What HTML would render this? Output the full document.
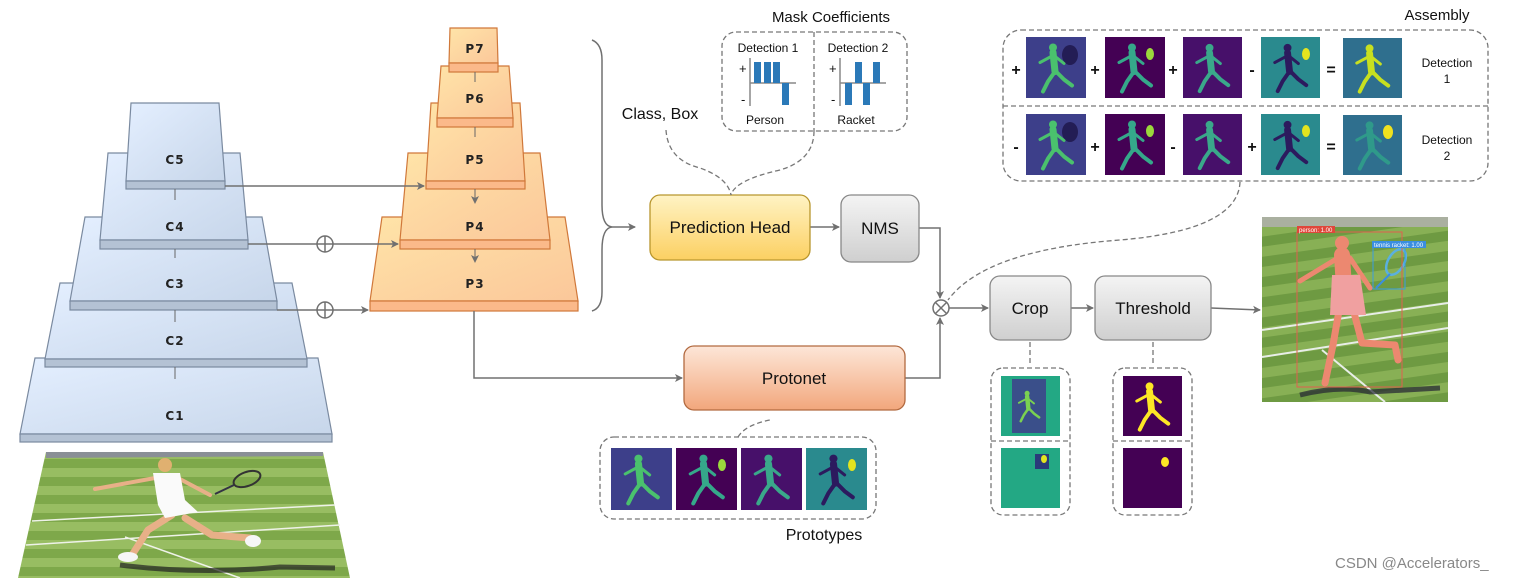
<!DOCTYPE html>
<html><head><meta charset="utf-8"><style>
html,body{margin:0;padding:0;background:#fff;}
svg{display:block;font-family:"Liberation Sans",sans-serif;}
.lab{font-family:"DejaVu Sans","Liberation Sans",sans-serif;font-weight:bold;font-size:12px;fill:#222;letter-spacing:1px}
.t{font-family:"Liberation Sans",sans-serif;fill:#111}
</style></head><body>
<svg width="1532" height="582" viewBox="0 0 1532 582" xmlns="http://www.w3.org/2000/svg">
<defs>
<linearGradient id="bl" x1="0" y1="0" x2="1" y2="1"><stop offset="0" stop-color="#e4efff"/><stop offset="1" stop-color="#c7d6ea"/></linearGradient>
<linearGradient id="or" x1="0" y1="0" x2="1" y2="1"><stop offset="0" stop-color="#ffe4a8"/><stop offset="1" stop-color="#fbc79a"/></linearGradient>
<linearGradient id="ye" x1="0" y1="0" x2="0" y2="1"><stop offset="0" stop-color="#fff3c4"/><stop offset="1" stop-color="#fcd062"/></linearGradient>
<linearGradient id="gr" x1="0" y1="0" x2="0" y2="1"><stop offset="0" stop-color="#f4f4f4"/><stop offset="1" stop-color="#cfcfcf"/></linearGradient>
<linearGradient id="pr" x1="0" y1="0" x2="0" y2="1"><stop offset="0" stop-color="#fde6d8"/><stop offset="1" stop-color="#f2a77c"/></linearGradient>
<pattern id="stripes" width="20" height="18" patternUnits="userSpaceOnUse"><rect width="20" height="18" fill="#7ea84a"/><rect width="20" height="9" fill="#98bd62"/></pattern>
<pattern id="stripes2" width="20" height="20" patternUnits="userSpaceOnUse" patternTransform="rotate(-8)"><rect width="20" height="20" fill="#6e9a42"/><rect width="20" height="10" fill="#88b055"/></pattern>
<marker id="ar" markerWidth="8" markerHeight="8" refX="7" refY="4" orient="auto" markerUnits="userSpaceOnUse"><path d="M0,0 L8,4 L0,8 L2,4 z" fill="#707070"/></marker>
<symbol id="fig" viewBox="0 0 60 60" overflow="visible">
<g fill="none" stroke-linecap="round" stroke-linejoin="round">
<circle cx="27" cy="10" r="4" fill="currentColor" stroke="none"/>
<path d="M27,15 L29,34" stroke-width="7"/>
<path d="M27,18 L14,25 M28,18 L38,26" stroke-width="3"/>
<path d="M29,34 L22,44 L17,54 M30,34 L38,42 L46,48" stroke-width="4"/>
</g>
</symbol>
</defs>

<!-- C pyramid -->
<g stroke="#7a8aa0" stroke-width="1.2">
<polygon points="35,358 318,358 332,434 20,434" fill="url(#bl)"/><rect x="20" y="434" width="312" height="8" fill="#b4c2d4"/>
<polygon points="60,283 292,283 307,359 45,359" fill="url(#bl)"/><rect x="45" y="359" width="262" height="8" fill="#b4c2d4"/>
<polygon points="85,217 262,217 277,301 70,301" fill="url(#bl)"/><rect x="70" y="301" width="207" height="9" fill="#b4c2d4"/>
<polygon points="108,153 240,153 248,240 100,240" fill="url(#bl)"/><rect x="100" y="240" width="148" height="9" fill="#b4c2d4"/>
<polygon points="131,103 219,103 225,181 126,181" fill="url(#bl)"/><rect x="126" y="181" width="99" height="8" fill="#b4c2d4"/>
</g>
<g stroke="#666" stroke-width="1"><line x1="175" y1="189" x2="175" y2="200"/><line x1="175" y1="249" x2="175" y2="258"/><line x1="175" y1="310" x2="175" y2="322"/><line x1="175" y1="367" x2="175" y2="379"/></g>
<g class="lab" text-anchor="middle"><text x="175" y="164">C5</text><text x="175" y="231">C4</text><text x="175" y="288">C3</text><text x="175" y="345">C2</text><text x="175" y="420">C1</text></g>

<!-- P pyramid -->
<g stroke="#d0783a" stroke-width="1.2">
<polygon points="382,217 565,217 578,301 370,301" fill="url(#or)"/><rect x="370" y="301" width="208" height="10" fill="#fbb98a"/>
<polygon points="408,153 540,153 550,240 400,240" fill="url(#or)"/><rect x="400" y="240" width="150" height="9" fill="#fbb98a"/>
<polygon points="431,103 520,103 525,181 426,181" fill="url(#or)"/><rect x="426" y="181" width="99" height="8" fill="#fbb98a"/>
<polygon points="441,66 509,66 513,118 437,118" fill="url(#or)"/><rect x="437" y="118" width="76" height="9" fill="#fbb98a"/>
<polygon points="450,28 497,28 498,63 449,63" fill="url(#or)"/><rect x="449" y="63" width="49" height="9" fill="#fbb98a"/>
</g>
<g stroke="#666" stroke-width="1" fill="none"><line x1="475" y1="72" x2="475" y2="82"/><line x1="475" y1="127" x2="475" y2="137"/><line x1="475" y1="189" x2="475" y2="203" marker-end="url(#ar)"/><line x1="475" y1="249" x2="475" y2="262" marker-end="url(#ar)"/></g>
<g class="lab" text-anchor="middle"><text x="475" y="53">P7</text><text x="475" y="103">P6</text><text x="475" y="164">P5</text><text x="475" y="231">P4</text><text x="475" y="288">P3</text></g>

<!-- arrows -->
<g stroke="#707070" stroke-width="1.5" fill="none">
<line x1="225" y1="186" x2="424" y2="186" marker-end="url(#ar)"/>
<line x1="248" y1="244" x2="398" y2="244" marker-end="url(#ar)"/>
<line x1="277" y1="310" x2="368" y2="310" marker-end="url(#ar)"/>
<circle cx="325" cy="244" r="8" fill="#fff"/><line x1="317" y1="244" x2="333" y2="244"/><line x1="325" y1="236" x2="325" y2="252"/>
<circle cx="325" cy="310" r="8" fill="#fff"/><line x1="317" y1="310" x2="333" y2="310"/><line x1="325" y1="302" x2="325" y2="318"/>
<path d="M592,40 Q602,44 602,60 L602,205 Q602,226 612,227 Q602,228 602,250 L602,292 Q602,308 592,311"/>
<line x1="612" y1="227" x2="635" y2="227" marker-end="url(#ar)"/>
<polyline points="474,311 474,378 682,378" marker-end="url(#ar)"/>
<line x1="810" y1="227" x2="839" y2="227" marker-end="url(#ar)"/>
<polyline points="919,228 940,228 940,298" marker-end="url(#ar)"/>
<polyline points="905,378 940,378 940,318" marker-end="url(#ar)"/>
<circle cx="941" cy="308" r="8" fill="#fff"/><line x1="935" y1="302" x2="947" y2="314"/><line x1="947" y1="302" x2="935" y2="314"/>
<line x1="949" y1="308" x2="988" y2="308" marker-end="url(#ar)"/>
<line x1="1071" y1="308" x2="1093" y2="308" marker-end="url(#ar)"/>
<line x1="1211" y1="308" x2="1260" y2="310" marker-end="url(#ar)"/>
</g>

<!-- boxes -->
<rect x="650" y="195" width="160" height="65" rx="10" fill="url(#ye)" stroke="#b8962e" stroke-width="1.3"/>
<text x="730" y="233" class="t" font-size="17" text-anchor="middle">Prediction Head</text>
<rect x="841" y="195" width="78" height="67" rx="10" fill="url(#gr)" stroke="#888" stroke-width="1.3"/>
<text x="880" y="234" class="t" font-size="17" text-anchor="middle">NMS</text>
<rect x="684" y="346" width="221" height="64" rx="10" fill="url(#pr)" stroke="#b26a40" stroke-width="1.3"/>
<text x="794" y="384" class="t" font-size="17" text-anchor="middle">Protonet</text>
<rect x="990" y="276" width="81" height="64" rx="10" fill="url(#gr)" stroke="#888" stroke-width="1.3"/>
<text x="1030" y="314" class="t" font-size="17" text-anchor="middle">Crop</text>
<rect x="1095" y="276" width="116" height="64" rx="10" fill="url(#gr)" stroke="#888" stroke-width="1.3"/>
<text x="1153" y="314" class="t" font-size="17" text-anchor="middle">Threshold</text>

<text x="831" y="22" class="t" font-size="15" text-anchor="middle">Mask Coefficients</text>
<g stroke="#777" stroke-width="1.3" stroke-dasharray="5,3" fill="none">
<rect x="722" y="32" width="185" height="99" rx="14"/>
<line x1="814" y1="32" x2="814" y2="131"/>
<path d="M814,131 Q814,160 780,170 Q735,180 731,195"/>
<path d="M666,130 Q668,160 700,168 Q728,178 731,195"/>
<path d="M1240,182 Q1238,230 1120,240 Q985,250 948,300"/>
<rect x="600" y="437" width="276" height="82" rx="14"/>
<path d="M738,437 Q745,425 770,420"/>
<rect x="991" y="368" width="79" height="147" rx="12"/>
<line x1="991" y1="441" x2="1070" y2="441"/>
<line x1="1030" y1="342" x2="1030" y2="366"/>
<rect x="1113" y="368" width="79" height="147" rx="12"/>
<line x1="1113" y1="441" x2="1192" y2="441"/>
<line x1="1153" y1="342" x2="1153" y2="366"/>
<rect x="1003" y="30" width="485" height="151" rx="18"/>
<line x1="1003" y1="106" x2="1488" y2="106"/>
</g>
<g class="t" font-size="12" text-anchor="middle"><text x="768" y="52">Detection 1</text><text x="858" y="52">Detection 2</text><text x="765" y="124">Person</text><text x="856" y="124">Racket</text></g>
<g class="t" font-size="13"><text x="739" y="73">+</text><text x="741" y="104">-</text><text x="829" y="73">+</text><text x="831" y="104">-</text></g>
<g stroke="#888" stroke-width="1.5"><line x1="750" y1="58" x2="750" y2="106"/><line x1="750" y1="83" x2="796" y2="83"/><line x1="840" y1="58" x2="840" y2="106"/><line x1="840" y1="83" x2="886" y2="83"/></g>
<g fill="#2b79b8"><rect x="754" y="62" width="7" height="21"/><rect x="764" y="62" width="7" height="21"/><rect x="773" y="62" width="7" height="21"/><rect x="782" y="83" width="7" height="22"/>
<rect x="845" y="83" width="7" height="22"/><rect x="855" y="62" width="7" height="21"/><rect x="863" y="83" width="7" height="22"/><rect x="873" y="62" width="7" height="21"/></g>
<text x="660" y="119" class="t" font-size="16" text-anchor="middle">Class, Box</text>

<!-- Assembly -->
<text x="1437" y="20" class="t" font-size="15" text-anchor="middle">Assembly</text>
<g>
<!-- row 1 -->
<rect x="1026" y="37" width="60" height="61" fill="#3d3f8a"/><ellipse cx="1070" cy="55" rx="8" ry="10" fill="#231d55"/><use href="#fig" x="1026" y="37" width="60" height="61" color="#4ac16d" stroke="#4ac16d"/>
<rect x="1105" y="37" width="60" height="61" fill="#440154"/><use href="#fig" x="1105" y="37" width="60" height="61" color="#35a88a" stroke="#35a88a"/><ellipse cx="1150" cy="54" rx="4" ry="6" fill="#9bd93c"/>
<rect x="1183" y="37" width="59" height="61" fill="#47106a"/><use href="#fig" x="1183" y="37" width="59" height="61" color="#3aa88a" stroke="#3aa88a"/>
<rect x="1261" y="37" width="59" height="61" fill="#2a8a8e"/><use href="#fig" x="1261" y="37" width="59" height="61" color="#2c1a5e" stroke="#2c1a5e"/><ellipse cx="1306" cy="54" rx="4" ry="6" fill="#e3e41f"/>
<rect x="1343" y="38" width="59" height="60" fill="#2f6f8e"/><use href="#fig" x="1343" y="38" width="59" height="60" color="#c8e020" stroke="#c8e020"/>
<!-- row 2 -->
<rect x="1026" y="114" width="60" height="61" fill="#3d3f8a"/><ellipse cx="1070" cy="132" rx="8" ry="10" fill="#231d55"/><use href="#fig" x="1026" y="114" width="60" height="61" color="#4ac16d" stroke="#4ac16d"/>
<rect x="1105" y="114" width="60" height="61" fill="#440154"/><use href="#fig" x="1105" y="114" width="60" height="61" color="#35a88a" stroke="#35a88a"/><ellipse cx="1150" cy="131" rx="4" ry="6" fill="#9bd93c"/>
<rect x="1183" y="114" width="59" height="61" fill="#47106a"/><use href="#fig" x="1183" y="114" width="59" height="61" color="#3aa88a" stroke="#3aa88a"/>
<rect x="1261" y="114" width="59" height="61" fill="#2a8a8e"/><use href="#fig" x="1261" y="114" width="59" height="61" color="#2c1a5e" stroke="#2c1a5e"/><ellipse cx="1306" cy="131" rx="4" ry="6" fill="#e3e41f"/>
<rect x="1343" y="115" width="59" height="60" fill="#2f6f8e"/><use href="#fig" x="1343" y="115" width="59" height="60" color="#2f9a8a" stroke="#2f9a8a"/><ellipse cx="1388" cy="132" rx="5" ry="7" fill="#f0e21f"/>
</g>
<g class="t" font-size="16" font-weight="bold" text-anchor="middle"><text x="1016" y="75">+</text><text x="1095" y="75">+</text><text x="1173" y="75">+</text><text x="1252" y="75">-</text><text x="1331" y="75">=</text>
<text x="1016" y="152">-</text><text x="1095" y="152">+</text><text x="1173" y="152">-</text><text x="1252" y="152">+</text><text x="1331" y="152">=</text></g>
<g class="t" font-size="12" text-anchor="middle"><text x="1447" y="67">Detection</text><text x="1447" y="83">1</text><text x="1447" y="144">Detection</text><text x="1447" y="160">2</text></g>

<!-- Prototypes -->
<rect x="611" y="448" width="61" height="62" fill="#3d3f8a"/><use href="#fig" x="611" y="448" width="61" height="62" color="#4ac16d" stroke="#4ac16d"/>
<rect x="676" y="448" width="61" height="62" fill="#440154"/><use href="#fig" x="676" y="448" width="61" height="62" color="#35a88a" stroke="#35a88a"/><ellipse cx="722" cy="465" rx="4" ry="6" fill="#9bd93c"/>
<rect x="741" y="448" width="61" height="62" fill="#47106a"/><use href="#fig" x="741" y="448" width="61" height="62" color="#3aa88a" stroke="#3aa88a"/>
<rect x="806" y="448" width="61" height="62" fill="#2a8a8e"/><use href="#fig" x="806" y="448" width="61" height="62" color="#2c1a5e" stroke="#2c1a5e"/><ellipse cx="852" cy="465" rx="4" ry="6" fill="#e3e41f"/>
<text x="824" y="540" class="t" font-size="16" text-anchor="middle">Prototypes</text>

<!-- crop / threshold masks -->
<rect x="1001" y="376" width="59" height="60" fill="#23a884"/><rect x="1012" y="379" width="34" height="54" fill="#3a4f8a"/><use href="#fig" x="1010" y="380" width="38" height="52" color="#7ad151" stroke="#7ad151"/>
<rect x="1001" y="448" width="59" height="60" fill="#23a884"/><rect x="1035" y="454" width="14" height="15" fill="#2a3a7a"/><ellipse cx="1044" cy="459" rx="3" ry="4" fill="#e3e41f"/>
<rect x="1123" y="376" width="59" height="60" fill="#440154"/><use href="#fig" x="1123" y="376" width="59" height="60" color="#fde725" stroke="#fde725"/>
<rect x="1123" y="448" width="59" height="60" fill="#440154"/><ellipse cx="1165" cy="462" rx="4" ry="5" fill="#fde725"/>

<!-- output image -->
<rect x="1262" y="217" width="186" height="185" fill="url(#stripes2)"/>
<rect x="1262" y="217" width="186" height="10" fill="#aab0a0"/>
<g stroke="#e8eee8" stroke-width="2"><line x1="1262" y1="330" x2="1448" y2="303"/><line x1="1262" y1="357" x2="1448" y2="328"/><line x1="1322" y1="350" x2="1385" y2="402"/></g>
<path d="M1300,395 Q1340,385 1370,392 L1440,388" stroke="#223" stroke-width="5" fill="none" opacity="0.7"/>
<g stroke="#ec8870" stroke-linecap="round" stroke-linejoin="round" fill="none">
<path d="M1342,255 L1345,305" stroke-width="16"/>
<path d="M1338,258 L1300,281 M1350,258 L1370,288" stroke-width="5"/>
<path d="M1340,305 L1333,345 L1325,383 M1352,305 L1362,343 L1395,345 L1398,360" stroke-width="7"/>
</g>
<path d="M1332,275 L1360,275 L1366,315 L1330,315 z" fill="#f0a0a0"/>
<circle cx="1342" cy="243" r="7" fill="#ec8870"/>
<ellipse cx="1396" cy="262" rx="8" ry="14" transform="rotate(30 1396 262)" fill="none" stroke="#5ab0e0" stroke-width="2.5"/>
<line x1="1390" y1="274" x2="1376" y2="288" stroke="#3a8ee0" stroke-width="2"/>
<rect x="1297" y="232" width="105" height="155" fill="none" stroke="#e06050" stroke-width="1"/>
<rect x="1373" y="246" width="32" height="43" fill="none" stroke="#3a9ee0" stroke-width="1"/>
<rect x="1297" y="226" width="38" height="7" fill="#e0463a"/><text x="1299" y="232" font-size="6" fill="#fff">person: 1.00</text>
<rect x="1372" y="241" width="54" height="7" fill="#3a8ee0"/><text x="1374" y="247" font-size="6" fill="#fff">tennis racket: 1.00</text>

<!-- input photo -->
<polygon points="46,452 323,452 350,578 18,578" fill="url(#stripes)"/>
<polygon points="46,452 323,452 323,456 46,458" fill="#8a8f96"/>
<g stroke="#eef2e8" stroke-width="1.5"><line x1="32" y1="521" x2="335" y2="505"/><line x1="26" y1="545" x2="340" y2="525"/><line x1="125" y1="537" x2="240" y2="578"/></g>
<path d="M120,565 Q200,575 280,567 L335,568" stroke="#222" stroke-width="5" fill="none" opacity="0.7"/>
<g stroke="#e8b088" stroke-linecap="round" stroke-linejoin="round" fill="none">
<path d="M155,478 L95,489 M178,478 L210,495" stroke-width="4"/>
<path d="M172,515 L148,530 L132,555 M185,518 L212,535 L250,538" stroke-width="7"/>
</g>
<path d="M153,473 L180,473 L185,500 L198,512 L165,518 L158,505 z" fill="#fafafa"/>
<circle cx="165" cy="465" r="7" fill="#e0b070"/>
<ellipse cx="247" cy="479" rx="14" ry="7" transform="rotate(-20 247 479)" fill="none" stroke="#333" stroke-width="2"/>
<line x1="234" y1="485" x2="215" y2="494" stroke="#334" stroke-width="2"/>
<ellipse cx="128" cy="557" rx="10" ry="5" fill="#f6f6f6"/><ellipse cx="253" cy="541" rx="8" ry="6" fill="#f6f6f6"/>

<text x="1335" y="568" font-family="Liberation Sans,sans-serif" font-size="15" fill="#888">CSDN @Accelerators_</text>
</svg>
</body></html>
